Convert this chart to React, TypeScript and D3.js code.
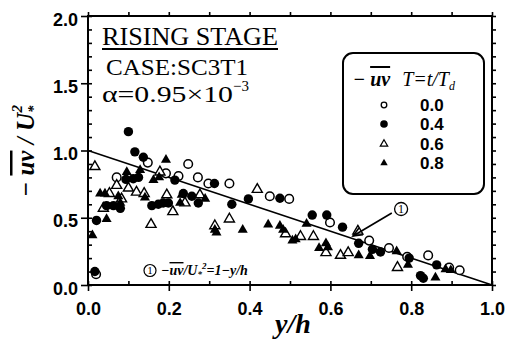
import React, { useRef, useEffect } from 'react';
import * as d3 from 'd3';

// -uv/U*^2 against y/h, one list per stage T = t/Td
const t00 = [[0.02, 0.08], [0.071, 0.8], [0.148, 0.91], [0.193, 0.83], [0.224, 0.81], [0.248, 0.9], [0.272, 0.8], [0.298, 0.755], [0.35, 0.755], [0.45, 0.66], [0.498, 0.64], [0.599, 0.465], [0.696, 0.33], [0.745, 0.275], [0.79, 0.21], [0.842, 0.22], [0.894, 0.13], [0.92, 0.11]];
const t04 = [[0.017, 0.1], [0.021, 0.48], [0.046, 0.59], [0.063, 0.59], [0.08, 0.57], [0.094, 0.785], [0.1, 1.14], [0.112, 0.79], [0.116, 0.99], [0.125, 0.8], [0.137, 0.95], [0.158, 0.59], [0.174, 0.6], [0.186, 0.61], [0.199, 0.61], [0.215, 0.78], [0.236, 0.68], [0.257, 0.66], [0.273, 0.61], [0.313, 0.755], [0.356, 0.6], [0.397, 0.64], [0.475, 0.645], [0.555, 0.52], [0.591, 0.52], [0.63, 0.43], [0.67, 0.31], [0.704, 0.265], [0.724, 0.245], [0.795, 0.2], [0.823, 0.07], [0.83, 0.05], [0.863, 0.15]];
const t06 = [[0.017, 0.88], [0.038, 0.57], [0.053, 0.68], [0.071, 0.74], [0.083, 0.64], [0.1, 0.72], [0.12, 0.69], [0.139, 0.68], [0.156, 0.45], [0.178, 0.84], [0.195, 0.67], [0.21, 0.545], [0.24, 0.61], [0.277, 0.67], [0.314, 0.44], [0.35, 0.49], [0.419, 0.71], [0.489, 0.38], [0.526, 0.36], [0.558, 0.36], [0.589, 0.24], [0.625, 0.22], [0.644, 0.24], [0.668, 0.4], [0.766, 0.13]];
const t08 = [[0.011, 0.37], [0.03, 0.68], [0.042, 0.68], [0.046, 0.49], [0.075, 0.66], [0.08, 0.61], [0.096, 0.84], [0.129, 0.855], [0.141, 0.65], [0.162, 0.78], [0.176, 0.8], [0.193, 0.93], [0.228, 0.61], [0.232, 0.67], [0.29, 0.64], [0.314, 0.41], [0.318, 0.39], [0.383, 0.41], [0.446, 0.45], [0.475, 0.44], [0.483, 0.41], [0.506, 0.33], [0.514, 0.34], [0.541, 0.455], [0.572, 0.275], [0.589, 0.31], [0.594, 0.28], [0.67, 0.22], [0.698, 0.215], [0.764, 0.25], [0.792, 0.15], [0.86, 0.055], [0.885, 0.117], [0.898, 0.11]];

const legendLabels = ['0.0', '0.4', '0.6', '0.8'];
const xTicks = [0, 0.2, 0.4, 0.6, 0.8, 1.0];
const yTicks = [0, 0.5, 1.0, 1.5, 2.0];

// theory line (1): -uv/U*^2 = 1 - y/h
const theoryX = [0, 1];
const theoryY = [1, 0];

const serif = "'Liberation Serif', 'Times New Roman', serif";
const sans = "'Liberation Sans', Arial, sans-serif";

function App() {
  const ref = useRef<SVGSVGElement>(null);

  useEffect(() => {
    const svg = d3.select(ref.current);
    svg.selectAll('*').remove();

    const x = d3.scaleLinear().domain([0, 1]).range([88, 492]);
    const y = d3.scaleLinear().domain([0, 2]).range([285, 16]);

    svg.append('rect').attr('width', 508).attr('height', 342).attr('fill', 'white');

    const minorX = d3.range(0, 1.001, 0.1);
    const minorY = d3.range(0, 2.001, 0.1);

    const styleAxis = (g) => {
      g.select('.domain').remove();
      g.selectAll('line').attr('stroke', 'black').attr('stroke-width', 1.6);
    };

    // left
    svg.append('g').attr('transform', 'translate(88,0)')
      .call(d3.axisLeft(y).tickValues(yTicks).tickSize(7).tickPadding(3).tickFormat(d3.format('.1f')))
      .call(styleAxis)
      .call(g => g.selectAll('text').attr('font-family', sans).attr('font-weight', 'bold')
        .attr('font-size', 18).attr('fill', 'black').attr('dy', '0.5em'));
    svg.append('g').attr('transform', 'translate(88,0)')
      .call(d3.axisLeft(y).tickValues(minorY).tickSize(-4).tickFormat(() => ''))
      .call(styleAxis);
    // bottom
    svg.append('g').attr('transform', 'translate(0,285)')
      .call(d3.axisBottom(x).tickValues(xTicks).tickSize(6).tickPadding(11).tickFormat(d3.format('.1f')))
      .call(styleAxis)
      .call(g => g.selectAll('text').attr('font-family', sans).attr('font-weight', 'bold')
        .attr('font-size', 18).attr('fill', 'black'));
    svg.append('g').attr('transform', 'translate(0,285)')
      .call(d3.axisBottom(x).tickValues(minorX).tickSize(-4).tickFormat(() => ''))
      .call(styleAxis);
    // top and right
    svg.append('g').attr('transform', 'translate(0,16)')
      .call(d3.axisTop(x).tickValues(minorX).tickSize(4).tickFormat(() => ''))
      .call(styleAxis);
    svg.append('g').attr('transform', 'translate(492,0)')
      .call(d3.axisRight(y).tickValues(minorY).tickSize(4).tickFormat(() => ''))
      .call(styleAxis);

    svg.append('rect')
      .attr('x', 88).attr('y', 16).attr('width', 404).attr('height', 269)
      .attr('fill', 'none').attr('stroke', 'black').attr('stroke-width', 2);

    // theory line
    const line = d3.line<number>().x(d => x(d)).y((d, i) => y(theoryY[i]));
    svg.append('path').datum(theoryX).attr('d', line)
      .attr('fill', 'none').attr('stroke', 'black').attr('stroke-width', 1.6);

    const tri = d3.symbol().type(d3.symbolTriangle).size(44);
    const triSmall = d3.symbol().type(d3.symbolTriangle).size(24);

    const pts = svg.append('g');
    pts.selectAll('.s00').data(t00).join('circle')
      .attr('cx', d => x(d[0])).attr('cy', d => y(d[1])).attr('r', 4.3)
      .attr('fill', 'white').attr('stroke', 'black').attr('stroke-width', 1.5);
    pts.selectAll('.s06').data(t06).join('path')
      .attr('transform', d => `translate(${x(d[0])},${y(d[1])})`).attr('d', tri)
      .attr('fill', 'white').attr('stroke', 'black').attr('stroke-width', 1.4);
    pts.selectAll('.s04').data(t04).join('circle')
      .attr('cx', d => x(d[0])).attr('cy', d => y(d[1])).attr('r', 4.7)
      .attr('fill', 'black');
    pts.selectAll('.s08').data(t08).join('path')
      .attr('transform', d => `translate(${x(d[0])},${y(d[1])})`).attr('d', tri)
      .attr('fill', 'black');

    // titles
    svg.append('text').attr('x', 102).attr('y', 45).attr('font-family', serif)
      .attr('font-size', 26).attr('textLength', 176).attr('lengthAdjust', 'spacingAndGlyphs').text('RISING STAGE');
    svg.append('line').attr('x1', 102).attr('x2', 278).attr('y1', 49).attr('y2', 49)
      .attr('stroke', 'black').attr('stroke-width', 2);
    svg.append('text').attr('x', 106).attr('y', 75).attr('font-family', serif)
      .attr('font-size', 24).attr('textLength', 142).attr('lengthAdjust', 'spacingAndGlyphs').text('CASE:SC3T1');
    svg.append('text').attr('x', 102).attr('y', 102).attr('font-family', serif)
      .attr('font-size', 24).attr('textLength', 131).attr('lengthAdjust', 'spacingAndGlyphs').text('α=0.95×10');
    svg.append('text').attr('x', 233).attr('y', 91).attr('font-family', serif)
      .attr('font-size', 15).text('−3');

    // legend
    svg.append('rect').attr('x', 343).attr('y', 53).attr('width', 141).attr('height', 141)
      .attr('rx', 10).attr('fill', 'white').attr('stroke', 'black').attr('stroke-width', 2);
    const head = svg.append('text').attr('x', 353).attr('y', 86).attr('font-family', serif)
      .attr('font-size', 20).attr('font-style', 'italic');
    head.append('tspan').attr('font-weight', 'bold').text('− ');
    head.append('tspan').attr('font-weight', 'bold').style('text-decoration', 'overline').text('uv');
    head.append('tspan').attr('dx', 12).text('T=t/T');
    head.append('tspan').attr('font-size', 12).attr('dy', 4).text('d');

    const legY = [105, 124, 144, 163];
    legendLabels.forEach((lab, i) => {
      const cy = legY[i];
      if (i === 0) svg.append('circle').attr('cx', 384).attr('cy', cy).attr('r', 2.8)
        .attr('fill', 'white').attr('stroke', 'black').attr('stroke-width', 1.3);
      if (i === 1) svg.append('circle').attr('cx', 384).attr('cy', cy).attr('r', 3.8).attr('fill', 'black');
      if (i === 2) svg.append('path').attr('transform', `translate(384,${cy})`).attr('d', triSmall)
        .attr('fill', 'white').attr('stroke', 'black').attr('stroke-width', 1.2);
      if (i === 3) svg.append('path').attr('transform', `translate(384,${cy})`).attr('d', triSmall).attr('fill', 'black');
      svg.append('text').attr('x', 420).attr('y', cy).attr('dy', '0.36em').attr('font-family', sans)
        .attr('font-weight', 'bold').attr('font-size', 17).text(lab);
    });

    // annotation (1) with arrow
    const ax = x(0.775), ay = y(0.565);
    svg.append('circle').attr('cx', ax).attr('cy', ay).attr('r', 6.5)
      .attr('fill', 'white').attr('stroke', 'black').attr('stroke-width', 1.3);
    svg.append('text').attr('x', ax).attr('y', ay).attr('dy', '0.35em').attr('text-anchor', 'middle')
      .attr('font-family', serif).attr('font-size', 12).text('1');
    const tipX = x(0.656), tipY = y(0.364), fromX = x(0.752), fromY = y(0.535);
    svg.append('line').attr('x1', fromX).attr('y1', fromY).attr('x2', tipX).attr('y2', tipY)
      .attr('stroke', 'black').attr('stroke-width', 1.6);
    const ang = Math.atan2(fromY - tipY, fromX - tipX);
    const hl = 10, hw = 0.4;
    svg.append('path')
      .attr('d', `M${tipX + hl * Math.cos(ang - hw)},${tipY + hl * Math.sin(ang - hw)}L${tipX},${tipY}L${tipX + hl * Math.cos(ang + hw)},${tipY + hl * Math.sin(ang + hw)}`)
      .attr('fill', 'none').attr('stroke', 'black').attr('stroke-width', 1.6);

    // formula note
    svg.append('circle').attr('cx', 150).attr('cy', 270.5).attr('r', 6)
      .attr('fill', 'white').attr('stroke', 'black').attr('stroke-width', 1.2);
    svg.append('text').attr('x', 150).attr('y', 270.5).attr('dy', '0.35em').attr('text-anchor', 'middle')
      .attr('font-family', serif).attr('font-size', 11).text('1');
    const note = svg.append('text').attr('x', 161).attr('y', 275).attr('font-family', serif)
      .attr('font-size', 14).attr('font-style', 'italic').attr('font-weight', 'bold');
    note.append('tspan').text('−');
    note.append('tspan').style('text-decoration', 'overline').text('uv');
    note.append('tspan').text('/U');
    note.append('tspan').attr('font-size', 9).attr('dy', 2).text('*');
    note.append('tspan').attr('font-size', 9).attr('dy', -8).text('2');
    note.append('tspan').attr('dy', 6).text('=1−y/h');

    // axis titles
    const yl = svg.append('text').attr('transform', 'translate(34,151) rotate(-90)')
      .attr('text-anchor', 'middle').attr('font-family', serif).attr('font-size', 25)
      .attr('font-style', 'italic').attr('font-weight', 'bold');
    yl.append('tspan').text('− ');
    yl.append('tspan').style('text-decoration', 'overline').text('uv');
    yl.append('tspan').text(' / U');
    yl.append('tspan').attr('font-size', 15).attr('dy', 4).text('*');
    yl.append('tspan').attr('font-size', 15).attr('dx', -7).attr('dy', -16).text('2');

    svg.append('text').attr('x', 293).attr('y', 333).attr('text-anchor', 'middle')
      .attr('font-family', serif).attr('font-size', 28).attr('font-style', 'italic')
      .attr('font-weight', 'bold').text('y/h');
  }, []);

  return (
    <svg ref={ref} width="508" height="342" style={{ position: 'absolute', left: 0, top: 0 }} />
  );
}

export default App;
